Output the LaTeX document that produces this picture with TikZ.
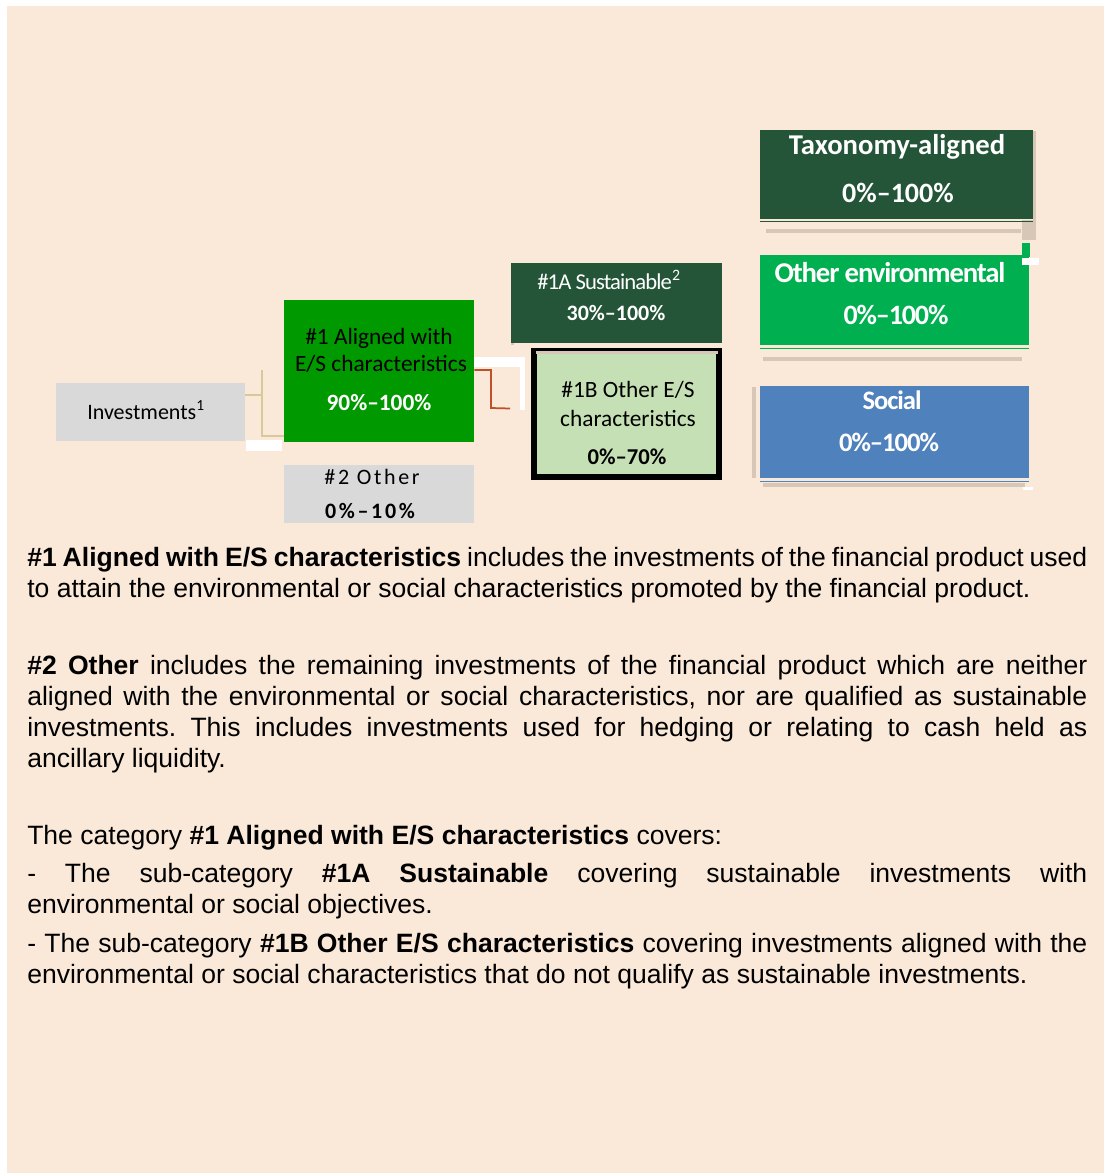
\documentclass[tikz,border=0pt]{standalone}
\usepackage{fontspec}
\usetikzlibrary{calc}
\setmainfont{Liberation Sans}
\newfontfamily\cb{Carlito}
\newfontfamily\cbwide[LetterSpace=12]{Carlito}
\newfontfamily\cbnarrow[LetterSpace=-4]{Carlito}
\definecolor{bg}{HTML}{FAE8D8}
\definecolor{grayb}{HTML}{D9D9D9}
\definecolor{green1}{HTML}{009900}
\definecolor{dkgreen}{HTML}{245538}
\definecolor{envgreen}{HTML}{00B050}
\definecolor{socblue}{HTML}{4F81BD}
\definecolor{ltgreen}{HTML}{C5E0B4}
\definecolor{tanln}{HTML}{D8C99B}
\definecolor{redln}{HTML}{C0502A}
\definecolor{shd}{HTML}{D6C7B6}
\hyphenpenalty=10000
\exhyphenpenalty=10000
\tolerance=10000
\newcommand{\parsetup}{\frenchspacing\spaceskip=5.55pt plus 12pt minus 1.5pt\relax\xspaceskip=5.55pt plus 12pt minus 1.5pt\relax}
\begin{document}
\begin{tikzpicture}[x=0.75pt,y=-0.75pt,
  box/.style={draw=none, inner sep=0pt, anchor=center},
  lbl/.style={inner sep=0pt, anchor=center, align=center},
  tanline/.style={draw=tanln, line width=1.5pt},
  redline/.style={draw=redln, line width=1.3pt},
  shade/.style={fill=shd},
  para/.style={anchor=north west, inner sep=0pt, text width=795pt, align=justify,
    font=\fontsize{19.9}{23.25}\selectfont}]
\useasboundingbox (0,0) rectangle (1104,1173);
\fill[bg] (7,6) rectangle (1104,1173);

% faint shadow lines
\fill[shade] (766,229) rectangle (1021,233);
\fill[shade] (763,357) rectangle (1022,361);
\fill[shade] (763,483) rectangle (1025,487);
\fill[shade] (752,387) rectangle (756,478);
\fill[shade] (511,263) rectangle (514,345);
\fill[shade] (1033,131) rectangle (1036,220);
\fill[shade] (1022,220) rectangle (1036,240);

% boxes
\node[box, fill=grayb, minimum width=141.75pt, minimum height=43.5pt] (inv) at (150.5,412) {};
\node[box, fill=green1, minimum width=142.5pt, minimum height=106.5pt] (al) at (379,371) {};
\node[box, fill=grayb, minimum width=142.5pt, minimum height=43.5pt] (oth) at (379,494) {};
\node[box, fill=dkgreen, minimum width=158.25pt, minimum height=60pt] (s1a) at (616.5,303) {};
\node[box, fill=ltgreen, draw=black, line width=4.5pt, minimum width=138.75pt, minimum height=94.5pt] (s1b) at (626.5,413.5) {};
\node[box, fill=dkgreen, minimum width=204.75pt, minimum height=66.75pt] (tax) at (896.5,174.5) {};
\node[box, fill=envgreen, minimum width=201.75pt, minimum height=67.5pt] (oenv) at (894.5,300) {};
\node[box, fill=socblue, minimum width=201.75pt, minimum height=69pt] (soc) at (894.5,432) {};
\draw[envgreen, line width=0.9pt] (oenv.south west) ++(0,3) -- ++(201.75pt,0);
\draw[socblue, line width=0.9pt] (soc.south west) ++(0,3) -- ++(201.75pt,0);
\draw[dkgreen, line width=0.9pt] (tax.south west) ++(0,2) -- ++(204.75pt,0);
\fill[shd] (536,351) rectangle (718,354);
\fill[envgreen] (1022,243) rectangle (1030,257);
\fill[white] (1022,258) rectangle (1039,265);
\fill[white] (1023,487) rectangle (1033,490);

% connectors
\fill[white] (246,440) rectangle (282,451);
\coordinate (j1) at (262,370);
\draw[tanline] ($(inv.north east)+(0,12)$) -- ++(17,0);
\draw[tanline] (j1) |- ($(al.south west)+(0,-6)$);
\fill[white] (474,357) rectangle (525,367);
\fill[white] (520,357) rectangle (525,410);
\coordinate (j2) at (491,408);
\draw[redline] ($(al.east)+(0,-1)$) -| (j2) -- ($(s1b.west)+(-21,-5)$);

% box labels
\node[lbl, font=\cb\fontsize{16.5}{20}\selectfont] (invt) at (146,410) {Investments\textsuperscript{1}};
\node[lbl, font=\cb\fontsize{17.5}{20}\selectfont] (alt1) at (379,338) {\#1 Aligned with};
\node[lbl, font=\cb\fontsize{17.5}{20}\selectfont] (alt2) at (381,364) {E/S characteristics};
\node[lbl, font=\cb\bfseries\fontsize{17.5}{20}\selectfont, text=white] (alt3) at (379,403) {90\%–100\%};
\node[lbl, font=\cbwide\fontsize{16.5}{20}\selectfont] (otht1) at (372,477) {\#2 Other};
\node[lbl, font=\cbwide\bfseries\fontsize{16.5}{20}\selectfont] (otht2) at (370,511) {0\%–10\%};
\node[lbl, font=\cbnarrow\fontsize{17}{20}\selectfont, text=white] (s1at1) at (609,280) {\#1A Sustainable\textsuperscript{2}};
\node[lbl, font=\cb\bfseries\fontsize{16.5}{20}\selectfont, text=white] (s1at2) at (616,313) {30\%–100\%};
\node[lbl, font=\cb\fontsize{17.5}{20}\selectfont] (s1bt1) at (628,390) {\#1B Other E/S};
\node[lbl, font=\cb\fontsize{17.5}{20}\selectfont] (s1bt2) at (628,418) {characteristics};
\node[lbl, font=\cb\bfseries\fontsize{17}{20}\selectfont] (s1bt3) at (627,457) {0\%–70\%};
\node[lbl, font=\cb\bfseries\fontsize{21.5}{24}\selectfont, text=white] (taxt1) at (897,147) {Taxonomy-aligned};
\node[lbl, font=\cb\bfseries\fontsize{21}{24}\selectfont, text=white] (taxt2) at (898,193) {0\%–100\%};
\node[lbl, font=\cbnarrow\bfseries\fontsize{21.5}{24}\selectfont, text=white] (oenvt1) at (890,273) {Other environmental};
\node[lbl, font=\cbnarrow\bfseries\fontsize{21}{24}\selectfont, text=white] (oenvt2) at (896,315) {0\%–100\%};
\node[lbl, font=\cbnarrow\bfseries\fontsize{20}{24}\selectfont, text=white] (soct1) at (892,400) {Social};
\node[lbl, font=\cbnarrow\bfseries\fontsize{20}{24}\selectfont, text=white] (soct2) at (889,442) {0\%–100\%};

% explanatory text
\node[para] (p1) at (27,545) {\parsetup\strut\textbf{\#1 Aligned with E/S characteristics} includes the investments of the financial product used\linebreak to attain the environmental or social characteristics promoted by the financial product.};
\node[para] (p2) at (27,653) {\parsetup\strut\textbf{\#2 Other} includes the remaining investments of the financial product which are neither\linebreak aligned with the environmental or social characteristics, nor are qualified as sustainable\linebreak investments. This includes investments used for hedging or relating to cash held as\linebreak ancillary liquidity.};
\node[para] (p3) at (27,823) {\parsetup\strut The category \textbf{\#1 Aligned with E/S characteristics} covers:};
\node[para] (p4) at (27,861) {\parsetup\strut- The sub-category \textbf{\#1A Sustainable} covering sustainable investments with\linebreak environmental or social objectives.};
\node[para] (p5) at (27,931) {\parsetup\strut- The sub-category \textbf{\#1B Other E/S characteristics} covering investments aligned with the\linebreak environmental or social characteristics that do not qualify as sustainable investments.};
\end{tikzpicture}
\end{document}
